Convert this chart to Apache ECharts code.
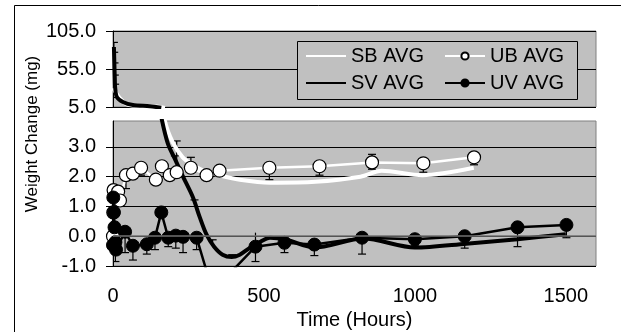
<!DOCTYPE html>
<html>
<head>
<meta charset="utf-8">
<script src="https://cdn.jsdelivr.net/npm/echarts@6/dist/echarts.min.js"></script>
<style>
  html, body { margin: 0; padding: 0; background: #fff; }
  #chart { width: 621px; height: 332px; }
</style>
</head>
<body>
<div id="chart"></div>
<script>
// SB AVG - smooth white trend line
const sbTime = [0, 24, 48, 100, 145, 172, 198, 231, 264, 300, 350, 420, 520, 670, 820, 890, 1025, 1195]
const sbVal = [30, 16, 8, 6, 5.6, 3.87, 3.15, 2.65, 2.4, 2.2, 2.05, 1.9, 1.8, 1.83, 2.0, 2.2, 2.05, 2.3]

// UB AVG - white circles
const ubTime = [0, 1, 2, 17, 23, 43, 66, 93, 142, 162, 188, 211, 258, 310, 353, 518, 684, 858, 1028, 1196]
const ubVal = [0.0, 0.8, 1.55, 1.5, 1.2, 2.05, 2.1, 2.3, 1.9, 2.35, 2.05, 2.15, 2.3, 2.05, 2.2, 2.3, 2.35, 2.48, 2.45, 2.65]

// SV AVG - smooth black trend line
const svTime = [3, 4, 5, 6, 7, 13, 33, 66, 122, 160, 182, 205, 232, 265, 287, 310, 335, 363, 393, 420, 452, 485, 520, 575, 667, 830, 1000, 1170, 1340, 1500]
const svVal = [84, 70, 55, 42, 31, 18, 11.5, 7.6, 6, 4.0, 3.1, 2.6, 2.0, 1.3, 0.65, 0.05, -0.35, -0.62, -0.7, -0.62, -0.4, -0.2, -0.05, -0.12, -0.38, -0.08, -0.38, -0.25, -0.1, 0.07]

// UV AVG - black dots
const uvTime = [0, 1, 3, 5, 8, 10, 40, 66, 112, 139, 160, 183, 208, 232, 277, 330, 472, 568, 667, 825, 1000, 1165, 1340, 1502]
const uvVal = [-0.3, 1.3, 0.8, 0.3, -0.2, -0.45, 0.15, -0.32, -0.27, -0.05, 0.8, -0.05, 0.02, -0.02, -0.05, -1.85, -0.35, -0.22, -0.28, -0.05, -0.1, 0.0, 0.3, 0.38]

// error bars: [time, from, to]
const ubErr = [[43, 2.05, 1.6], [93, 2.3, 2.05], [211, 2.15, 3.2], [258, 2.3, 2.65], [518, 2.3, 1.9], [684, 2.35, 2.05], [858, 2.48, 2.75], [858, 2.48, 2.25], [1028, 2.45, 2.15], [1196, 2.65, 2.4]]
const svErrTop = [[3, 84, 90], [4, 70, 77], [5, 55, 63], [6, 42, 47], [7, 31, 35], [13, 18, 17.5]]
const svErrLow = [[205, 2.6, 2.7], [270, 1.15, 1.22], [330, -0.2, -0.12], [395, -0.7, -0.62]]
const uvErr = [[8, -0.2, -0.85], [40, 0.15, -0.55], [66, -0.32, -0.8], [112, -0.27, -0.6], [139, -0.05, -0.45], [183, -0.05, -0.35], [208, 0.02, -0.4], [232, -0.02, -0.55], [277, -0.05, -0.45], [472, 0.12, -0.85], [568, -0.22, -0.55], [667, -0.28, -0.65], [825, -0.05, -0.6], [1000, -0.1, -0.3], [1165, 0.0, -0.4], [1340, 0.3, -0.35], [1502, 0.38, -0.05]]

// axis ticks
const xTicks = [0, 500, 1000, 1500]
const yTicksTop = [5, 55, 105]
const yTicksLow = [-1, 0, 1, 2, 3]

const FONT = 'Liberation Sans, Arial, sans-serif'
const TOP_FLOOR = 5
const pairs = (t, v) => t.map((x, i) => [x, v[i]])
// upper (broken) panel: keep points until the curve has passed below the panel floor
const abovePanel = (t, v) => pairs(t, v).filter((p, i) => i === 0 || v[i - 1] >= TOP_FLOOR)

function errRender(params, api) {
  const p0 = api.coord([api.value(0), api.value(1)])
  const p1 = api.coord([api.value(0), api.value(2)])
  const st = { stroke: '#000', lineWidth: 1.2 }
  return {
    type: 'group',
    children: [
      { type: 'line', shape: { x1: p0[0], y1: p0[1], x2: p1[0], y2: p1[1] }, style: st },
      { type: 'line', shape: { x1: p1[0] - 4, y1: p1[1], x2: p1[0] + 4, y2: p1[1] }, style: st }
    ]
  }
}

function errSeries(data, xi, yi) {
  return {
    type: 'custom',
    xAxisIndex: xi,
    yAxisIndex: yi,
    clip: true,
    silent: true,
    renderItem: errRender,
    encode: { x: 0, y: [1, 2] },
    data
  }
}

const chart = echarts.init(document.getElementById('chart'), null, { renderer: 'canvas' })

const yLabel = {
  fontSize: 20,
  fontFamily: FONT,
  color: '#000',
  margin: 17,
  formatter: v => v.toFixed(1)
}

const legendText = { fontSize: 20, fontFamily: FONT, color: '#000' }

const option = {
  animation: false,
  backgroundColor: '#fff',
  textStyle: { fontFamily: FONT },
  grid: [
    { left: 113, top: 31, width: 483, height: 76, show: true, backgroundColor: '#c0c0c0', borderColor: '#808080', borderWidth: 1 },
    { left: 113, top: 121, width: 483, height: 145, show: true, backgroundColor: '#c0c0c0', borderColor: '#808080', borderWidth: 1 }
  ],
  xAxis: [
    { type: 'value', gridIndex: 0, min: 0, max: 1600, show: false },
    {
      type: 'value', gridIndex: 1, min: 0, max: 1600, interval: 500,
      axisLine: { show: false, onZero: false },
      axisTick: { show: false },
      splitLine: { show: false },
      axisLabel: { fontSize: 20, fontFamily: FONT, color: '#000', margin: 20, customValues: xTicks, formatter: v => String(v) },
      name: 'Time (Hours)',
      nameLocation: 'middle',
      nameGap: 44,
      nameTextStyle: { fontSize: 20, fontFamily: FONT, color: '#000' }
    }
  ],
  yAxis: [
    {
      type: 'value', gridIndex: 0, min: TOP_FLOOR, max: 105, interval: 50,
      axisLine: { show: true, lineStyle: { color: '#000', width: 1 } },
      axisTick: { show: true, length: 7, lineStyle: { color: '#000' }, customValues: yTicksTop },
      axisLabel: Object.assign({ customValues: yTicksTop }, yLabel),
      splitLine: { show: true, lineStyle: { color: '#000', width: 1 } }
    },
    {
      type: 'value', gridIndex: 1, min: -1, max: 3.87, interval: 1,
      axisLine: { show: true, lineStyle: { color: '#000', width: 1 } },
      axisTick: { show: true, length: 7, lineStyle: { color: '#000' }, customValues: yTicksLow },
      axisLabel: Object.assign({ customValues: yTicksLow }, yLabel),
      splitLine: { show: true, lineStyle: { color: '#000', width: 1 } }
    }
  ],
  legend: [
    {
      data: [{ name: 'SB AVG', itemStyle: { opacity: 0 } }, { name: 'SV AVG', itemStyle: { opacity: 0 } }],
      orient: 'vertical', left: 305, top: 46, padding: 0,
      itemWidth: 40, itemHeight: 9, itemGap: 7, z: 6, textStyle: legendText
    },
    {
      data: ['UB AVG', 'UV AVG'], orient: 'vertical', left: 444, top: 46, padding: 0,
      itemWidth: 40, itemHeight: 9, itemGap: 7, z: 6, textStyle: legendText
    }
  ],
  graphic: [
    { type: 'rect', z: 10, silent: true, shape: { x: 14.5, y: 5.5, width: 700, height: 400 }, style: { fill: 'none', stroke: '#000', lineWidth: 1 } },
    { type: 'rect', z: 3, silent: true, shape: { x: 297.5, y: 41.5, width: 280, height: 58 }, style: { fill: '#c0c0c0', stroke: '#000', lineWidth: 1 } },
    { type: 'text', x: 32, y: 134, rotation: Math.PI / 2, silent: true, style: { text: 'Weight Change (mg)', fontSize: 17, fontFamily: FONT, fill: '#000', align: 'center', verticalAlign: 'middle' } }
  ],
  series: [
    {
      name: 'SB AVG', type: 'line', xAxisIndex: 0, yAxisIndex: 0, data: abovePanel(sbTime, sbVal),
      smooth: 0.3, symbol: 'none', lineStyle: { color: '#fff', width: 4 }, itemStyle: { color: '#fff' }
    },
    {
      name: 'SV AVG', type: 'line', xAxisIndex: 0, yAxisIndex: 0, data: abovePanel(svTime, svVal),
      smooth: 0.3, symbol: 'none', lineStyle: { color: '#000', width: 4 }, itemStyle: { color: '#000' }
    },
    errSeries(svErrTop, 0, 0),
    {
      name: 'SB AVG', type: 'line', xAxisIndex: 1, yAxisIndex: 1, data: pairs(sbTime, sbVal),
      smooth: 0.3, symbol: 'none', lineStyle: { color: '#fff', width: 4 }, itemStyle: { color: '#fff' },
      markLine: {
        silent: true, symbol: ['none', 'none'], label: { show: false },
        lineStyle: { color: '#707070', width: 1.5, type: 'solid' },
        data: [{ yAxis: 0 }]
      }
    },
    errSeries(ubErr, 1, 1),
    {
      name: 'UB AVG', type: 'line', xAxisIndex: 1, yAxisIndex: 1, data: pairs(ubTime, ubVal),
      symbol: 'circle', symbolSize: 13,
      lineStyle: { color: '#fff', width: 2.5 },
      itemStyle: { color: '#fff', borderColor: '#000', borderWidth: 1.2 }
    },
    {
      name: 'SV AVG', type: 'line', xAxisIndex: 1, yAxisIndex: 1, data: pairs(svTime, svVal),
      smooth: 0.3, symbol: 'none', lineStyle: { color: '#000', width: 4 }, itemStyle: { color: '#000' }
    },
    errSeries(svErrLow, 1, 1),
    errSeries(uvErr, 1, 1),
    {
      name: 'UV AVG', type: 'line', xAxisIndex: 1, yAxisIndex: 1, data: pairs(uvTime, uvVal),
      symbol: 'circle', symbolSize: 13,
      lineStyle: { color: '#000', width: 2.5 },
      itemStyle: { color: '#000', borderColor: '#000', borderWidth: 1 }
    }
  ]
}

chart.setOption(option)
</script>
</body>
</html>
